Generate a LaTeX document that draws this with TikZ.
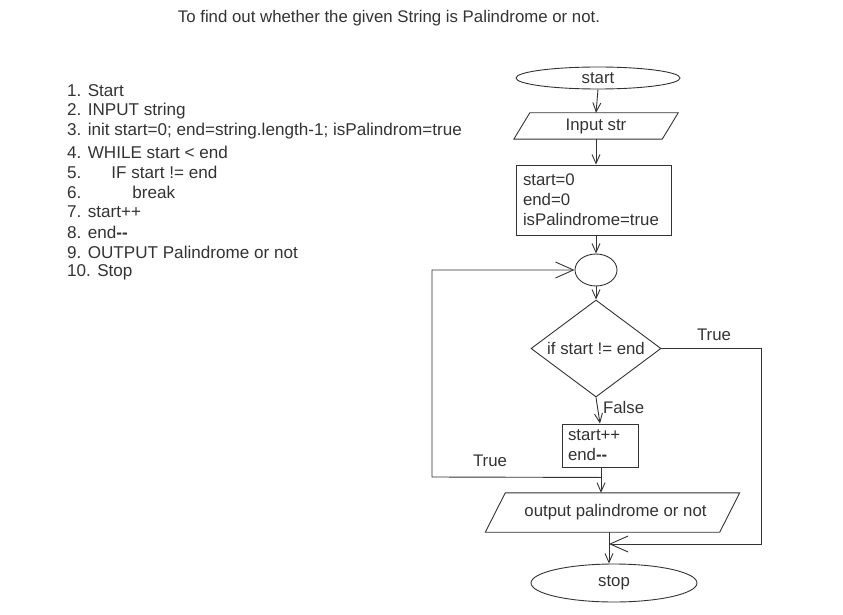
\documentclass[tikz,border=0pt]{standalone}
\usepackage{fontspec}
\setmainfont{Liberation Sans}
\usetikzlibrary{shapes.geometric,arrows.meta,calc}
\begin{document}
\begin{tikzpicture}[x=1pt,y=-1pt,
  every node/.style={text=black!80, font=\fontsize{16.8}{19.8}\selectfont},
  ln/.style={draw=black!80, line width=0.9pt},
  arr/.style={ln, -{Straight Barb[length=9pt,width=8pt,line width=0.9pt]}},
  bigarr/.style={ln, -{Straight Barb[length=18pt,width=16pt,line width=0.9pt]}},
  term/.style={ellipse, draw=black!80, line width=0.9pt, inner sep=0pt},
  io/.style={rectangle, inner sep=0pt},
  proc/.style={rectangle, draw=black!80, line width=0.9pt},
  lst/.style={anchor=west, inner sep=0pt, font=\fontsize{17.1}{20}\selectfont},
  lbl/.style={inner sep=0pt}
]
\useasboundingbox (0,0) rectangle (843,615);

\node[lbl] (title) at (389,18) {To find out whether the given String is Palindrome or not.};

\node[lst] (l1) at (67,91) {1. Start};
\node[lst] (l2) at (67,111) {2. INPUT string};
\node[lst] (l3) at (67,131) {3. init start=0; end=string.length-1; isPalindrom=true};
\node[lst] (l4) at (67,152) {4. WHILE start < end};
\node[lst] (l5) at (67,172) {5.\hspace{30pt}IF start != end};
\node[lst] (l6) at (67,192) {6.\hspace{51pt}break};
\node[lst] (l7) at (67,212) {7. start++};
\node[lst] (l8) at (67,232) {8. end\textbf{-{}-}};
\node[lst] (l9) at (67,252) {9. OUTPUT Palindrome or not};
\node[lst] (l10) at (67,272) {10. Stop};

\node[term, minimum width=164pt, minimum height=22pt] (start) at (598,78) {start};
\node[io, minimum width=148pt, minimum height=26pt] (inp) at (596,126) {Input str};
\draw[ln] ($(inp.north west)+(8,0)$) -- ($(inp.north east)+(8,0)$) -- ($(inp.south east)+(-8,0)$) -- ($(inp.south west)+(-8,0)$) -- cycle;
\node[proc, minimum width=155pt, minimum height=70pt, text width=141pt, align=left, inner sep=7pt] (init) at (593.5,200)
  {start=0\\end=0\\isPalindrome=true};
\node[term, minimum width=42pt, minimum height=32pt] (circ) at (596,270) {};
\node[diamond, aspect=1.34, draw=black!80, line width=0.9pt, inner sep=0pt, minimum width=130pt, minimum height=97pt] (dec) at (596,348.5) {if start != end};
\node[proc, minimum width=76pt, minimum height=43pt, text width=64pt, align=left, inner sep=3pt] (inc) at (600,445.5)
  {start++\\end\textbf{-{}-}};
\node[io, minimum width=234pt, minimum height=39pt] (out) at (612.5,512.5) {\hspace{6pt}output palindrome or not};
\draw[ln] ($(out.north west)+(10,0)$) -- ($(out.north east)+(10,0)$) -- ($(out.south east)+(-10,0)$) -- ($(out.south west)+(-10,0)$) -- cycle;
\node[term, minimum width=166pt, minimum height=38pt] (stop) at (614,583) {stop};

\coordinate (is) at ($(inc.south)+(1,0)$);
\coordinate (j) at ($(inc.south)+(1,10)$);
\coordinate (lc) at (432,477);
\coordinate (rc) at (761,544);
\coordinate (os) at (609,532);
\coordinate (m) at (609,544);

\draw[arr] (start.south) -- (inp.north);
\draw[arr] (inp.south) -- (inp.south |- init.north);
\draw[arr] (circ.north |- init.south) -- (circ.north);
\draw[arr] (circ.south) -- (dec.north);
\draw[arr] (dec.south) -- node[lbl, right=5pt, pos=0.4] (f) {False} (inc.north);
\draw[arr] (is) -- (is |- out.north);
\draw[bigarr] (j) -- (lc) |- (circ.west);
\draw[arr] (os) -- (os |- stop.north);
\draw[bigarr] (dec.east) -| (rc) -- (m);

\node[lbl] (t1) at (490,461) {True};
\node[lbl] (t2) at (714,335) {True};
\end{tikzpicture}
\end{document}
